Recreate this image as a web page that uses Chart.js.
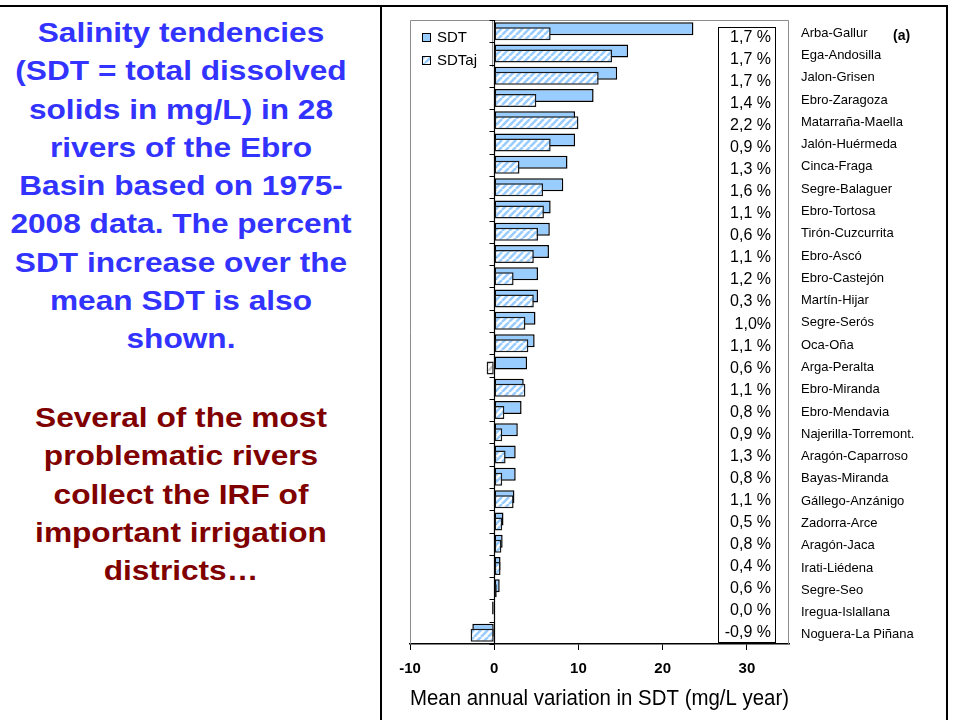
<!DOCTYPE html>
<html>
<head>
<meta charset="utf-8">
<script src="https://cdn.jsdelivr.net/npm/chart.js@4"></script>
<style>
  body { margin: 0; width: 953px; height: 720px; background: #fff; overflow: hidden; position: relative;
         font-family: Arial, "Liberation Sans", sans-serif; }
  .rule { position: absolute; background: #000; }
  .note { position: absolute; left: 0; width: 362px; text-align: center; font-weight: bold;
          font-size: 28px; line-height: 38.3px; transform: scaleX(1.13); }
  #note-blue { top: 14px; color: #3333ff; }
  #note-red { top: 399px; color: #800000; }
  #wrap { position: absolute; left: 383px; top: 7px; width: 563px; height: 713px; }
</style>
</head>
<body>
<div class="rule" style="left:0;top:5px;width:948px;height:2px"></div>
<div class="rule" style="left:380px;top:5px;width:2px;height:715px"></div>
<div class="rule" style="left:946px;top:5px;width:2px;height:715px"></div>

<div class="note" id="note-blue">Salinity tendencies<br>(SDT = total dissolved<br>solids in mg/L) in 28<br>rivers of the Ebro<br>Basin based on 1975-<br>2008 data. The percent<br>SDT increase over the<br>mean SDT is also<br>shown.</div>
<div class="note" id="note-red">Several of the most<br>problematic rivers<br>collect the IRF of<br>important irrigation<br>districts…</div>

<div id="wrap"><canvas id="sdt-chart"></canvas></div>

<script>
const RIVERS = ["Arba-Gallur", "Ega-Andosilla", "Jalon-Grisen", "Ebro-Zaragoza", "Matarraña-Maella",
  "Jalón-Huérmeda", "Cinca-Fraga", "Segre-Balaguer", "Ebro-Tortosa", "Tirón-Cuzcurrita", "Ebro-Ascó",
  "Ebro-Castejón", "Martín-Hijar", "Segre-Serós", "Oca-Oña", "Arga-Peralta", "Ebro-Miranda",
  "Ebro-Mendavia", "Najerilla-Torremont.", "Aragón-Caparroso", "Bayas-Miranda", "Gállego-Anzánigo",
  "Zadorra-Arce", "Aragón-Jaca", "Irati-Liédena", "Segre-Seo", "Iregua-Islallana", "Noguera-La Piñana"];

// mg/L per year
const SDT = [23.65, 15.9, 14.6, 11.8, 9.6, 9.6, 8.7, 8.2, 6.7, 6.6, 6.5, 5.2, 5.2, 4.9, 4.8, 3.9, 3.5,
  3.25, 2.8, 2.55, 2.55, 2.4, 1.1, 1.0, 0.75, 0.65, -0.25, -2.6];
const SDT_AJ = [6.7, 14.0, 12.4, 5.0, 10.0, 6.7, 3.0, 5.8, 5.9, 5.2, 4.7, 2.3, 4.7, 3.7, 4.05, -0.9, 3.7,
  1.2, 0.95, 1.35, 0.95, 2.3, 0.95, 0.85, 0.75, 0.3, 0, -2.8];

const PCT_LABELS = ["1,7 %", "1,7 %", "1,7 %", "1,4 %", "2,2 %", "0,9 %", "1,3 %", "1,6 %", "1,1 %",
  "0,6 %", "1,1 %", "1,2 %", "0,3 %", "1,0%", "1,1 %", "0,6 %", "1,1 %", "0,8 %", "0,9 %", "1,3 %",
  "0,8 %", "1,1 %", "0,5 %", "0,8 %", "0,4 %", "0,6 %", "0,0 %", "-0,9 %"];

const X_TICKS = [-10, 0, 10, 20, 30];

const FONT = "Arial, 'Liberation Sans', sans-serif";
const BLUE = "#99ccff";

function hatch(stripe) {
  const c = document.createElement("canvas");
  c.width = 7; c.height = 7;
  const g = c.getContext("2d");
  g.fillStyle = "#fff";
  g.fillRect(0, 0, 7, 7);
  g.strokeStyle = stripe;
  g.lineWidth = 2.6;
  g.beginPath();
  for (const o of [-7, 0, 7]) { g.moveTo(o, 7); g.lineTo(o + 7, 0); }
  g.stroke();
  return g.createPattern(c, "repeat");
}

const blueHatch = hatch(BLUE);
const greyHatch = hatch("#c8c8c8");

// hatched series sits below the solid one but is painted on top of it
const lateHatch = {
  id: "lateHatch",
  beforeDatasetDraw(chart, args) {
    if (args.index === 1) return false;
  },
  afterDatasetsDraw(chart) {
    chart.getDatasetMeta(1).controller.draw();
  },
};

const frame = {
  id: "frame",
  beforeDatasetsDraw(chart) {
    const { ctx, chartArea: a } = chart;
    ctx.save();
    ctx.strokeStyle = "#8c8c8c";
    ctx.lineWidth = 1;
    ctx.beginPath();
    ctx.moveTo(a.left + 0.5, a.bottom);
    ctx.lineTo(a.left + 0.5, a.top + 0.5);
    ctx.lineTo(a.right - 0.5, a.top + 0.5);
    ctx.lineTo(a.right - 0.5, a.bottom);
    // legend box edge
    ctx.moveTo(a.left + 82.5, a.top);
    ctx.lineTo(a.left + 82.5, a.top + 47);
    ctx.stroke();
    ctx.restore();
  },
  afterDraw(chart) {
    const { ctx, chartArea: a, scales } = chart;
    const x0 = Math.round(scales.x.getPixelForValue(0)) + 0.5;
    ctx.save();

    // value-zero axis with category tick marks
    ctx.strokeStyle = "#000";
    ctx.lineWidth = 1.2;
    ctx.beginPath();
    ctx.moveTo(x0, a.top);
    ctx.lineTo(x0, a.bottom);
    for (let i = 0; i <= RIVERS.length; i++) {
      const yb = Math.round(scales.y.getPixelForValue(i - 0.5)) + 0.5;
      ctx.moveTo(x0 - 5, yb);
      ctx.lineTo(x0, yb);
    }
    ctx.stroke();

    // legend
    const items = [["SDT", BLUE], ["SDTaj", blueHatch]];
    ctx.font = `15px ${FONT}`;
    ctx.textBaseline = "middle";
    ctx.textAlign = "left";
    items.forEach(([name, fill], k) => {
      const ty = a.top + 17 + k * 23;
      ctx.fillStyle = fill;
      ctx.fillRect(a.left + 12, ty - 4, 8, 8);
      ctx.strokeStyle = "#000";
      ctx.lineWidth = 1;
      ctx.strokeRect(a.left + 12.5, ty - 3.5, 8, 8);
      ctx.fillStyle = "#000";
      ctx.fillText(name, a.left + 27, ty + 1);
    });

    // percent increase column
    ctx.strokeStyle = "#000";
    ctx.lineWidth = 1;
    ctx.strokeRect(a.right - 70.5, a.top + 7.5, 57, a.height - 9);
    ctx.font = `16px ${FONT}`;
    ctx.textAlign = "right";
    PCT_LABELS.forEach((txt, i) => {
      const yc = scales.y.getPixelForValue(i);
      ctx.fillText(txt, a.right - 18, yc + 6.5 - i * 0.25);
    });

    ctx.font = `bold 14px ${FONT}`;
    ctx.textAlign = "left";
    ctx.fillText("(a)", a.right + 104, a.top + 16);
    ctx.restore();
  },
};

new Chart(document.getElementById("sdt-chart"), {
  type: "bar",
  data: {
    labels: RIVERS,
    datasets: [
      {
        label: "SDT",
        data: SDT,
        backgroundColor: BLUE,
        borderColor: "#000",
        borderWidth: 1.5,
        borderSkipped: false,
        categoryPercentage: 0.449,
        barPercentage: 2.6,
      },
      {
        label: "SDTaj",
        data: SDT_AJ,
        backgroundColor: SDT_AJ.map((v, i) => (i === 15 ? greyHatch : blueHatch)),
        borderColor: "#1a1a1a",
        borderWidth: 1.5,
        borderSkipped: false,
        categoryPercentage: 0.449,
        barPercentage: 2.6,
      },
    ],
  },
  options: {
    indexAxis: "y",
    animation: false,
    responsive: true,
    maintainAspectRatio: false,
    devicePixelRatio: 1,
    layout: { padding: { left: 27, top: 13, right: 0, bottom: 0 } },
    plugins: { legend: { display: false }, tooltip: { enabled: false } },
    scales: {
      x: {
        type: "linear",
        position: "bottom",
        min: -10,
        max: 35,
        afterBuildTicks: (s) => { s.ticks = X_TICKS.map((v) => ({ value: v })); },
        afterFit: (s) => { s.height = 76; },
        grid: { drawOnChartArea: false, drawTicks: true, tickLength: 6, color: "#000" },
        border: { color: "#000", width: 1.5 },
        ticks: { color: "#000", padding: 10, font: { family: FONT, size: 15, weight: "bold" } },
        title: {
          display: true,
          text: "Mean annual variation in SDT (mg/L year)",
          color: "#000",
          font: { family: FONT, size: 21.5 },
          padding: { top: 4, bottom: 8 },
        },
      },
      y: { type: "category", display: false, offset: true },
      y2: {
        type: "category",
        position: "right",
        labels: RIVERS,
        offset: true,
        afterFit: (s) => { s.width = 157; s.paddingTop = 0; s.paddingBottom = 0; },
        grid: { display: false, drawTicks: false },
        border: { display: false },
        ticks: { autoSkip: false, color: "#000", padding: 12, labelOffset: 2, font: { family: FONT, size: 13 } },
      },
    },
  },
  plugins: [lateHatch, frame],
});
</script>
</body>
</html>
